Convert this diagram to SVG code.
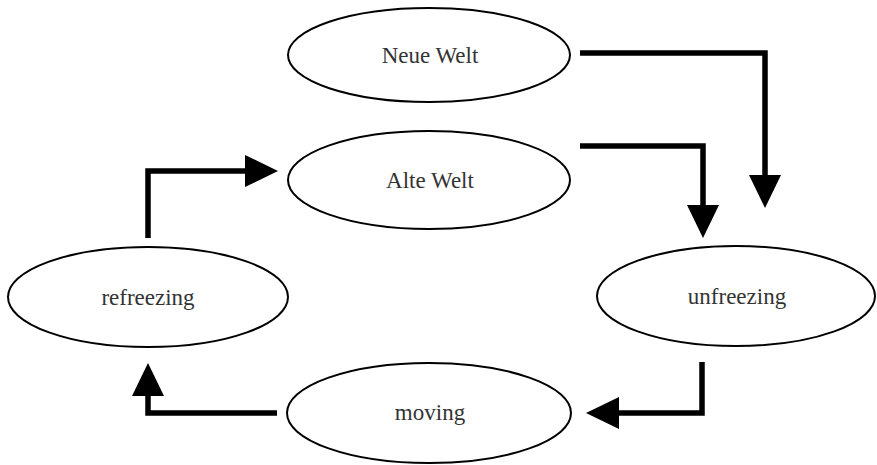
<svg xmlns="http://www.w3.org/2000/svg" width="877" height="465" viewBox="0 0 877 465">
<style>
.node ellipse{fill:#fff;stroke:#000;stroke-width:2}
.node text{font-family:"Liberation Serif",serif;font-size:23px;fill:#333;text-anchor:middle}
.conn path{fill:none;stroke:#000;stroke-width:5.5;stroke-linejoin:miter}
</style>
<defs>
<marker id="ah" markerUnits="userSpaceOnUse" markerWidth="33" markerHeight="33" refX="0" refY="16" orient="auto" overflow="visible">
<path d="M0,0 L33,16 L0,32 Z" fill="#000"/>
</marker>
</defs>
<rect width="877" height="465" fill="#fff"/>
<g id="neue-welt" class="node"><ellipse cx="429" cy="55" rx="141" ry="47"/><text x="430" y="63">Neue Welt</text></g>
<g id="alte-welt" class="node"><ellipse cx="429" cy="180" rx="141" ry="49"/><text x="430" y="188">Alte Welt</text></g>
<g id="refreezing" class="node"><ellipse cx="148" cy="297" rx="140" ry="50"/><text x="148" y="305">refreezing</text></g>
<g id="unfreezing" class="node"><ellipse cx="736" cy="296" rx="139" ry="50"/><text x="737" y="304">unfreezing</text></g>
<g id="moving" class="node"><ellipse cx="429" cy="413" rx="142" ry="50"/><text x="430" y="420">moving</text></g>
<g id="connectors" class="conn">
<path d="M580,53 H765 V175" marker-end="url(#ah)"/>
<path d="M580,146 H703 V205" marker-end="url(#ah)"/>
<path d="M702,362 V413 H619" marker-end="url(#ah)"/>
<path d="M277,413 H148 V396" marker-end="url(#ah)"/>
<path d="M148,238 V171 H245" marker-end="url(#ah)"/>
</g>
</svg>
